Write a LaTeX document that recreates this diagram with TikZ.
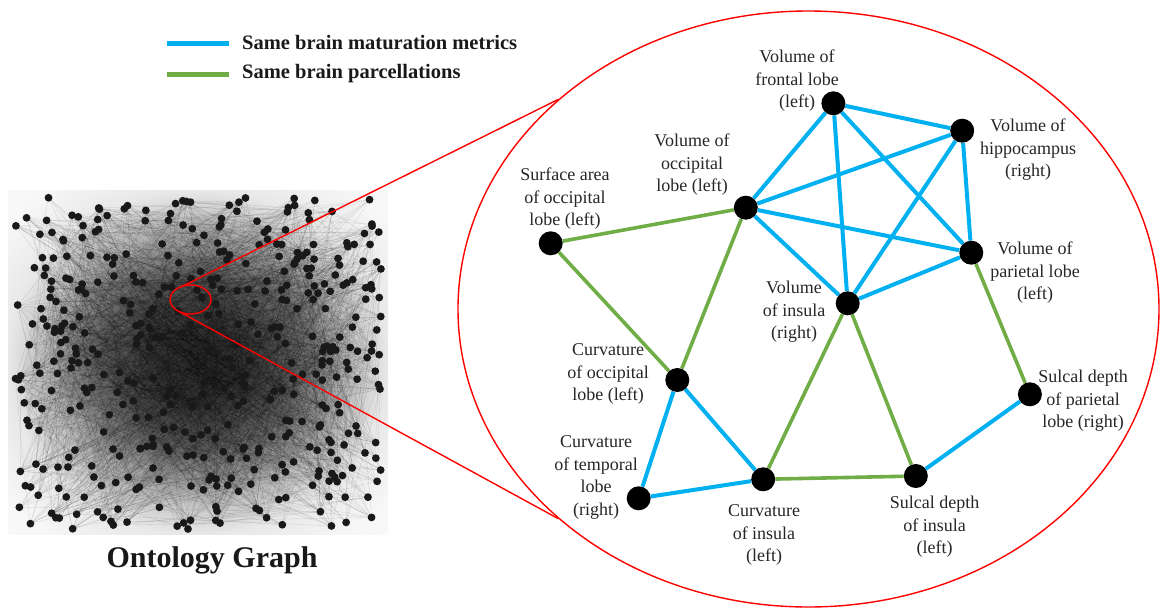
\documentclass[tikz,border=0pt]{standalone}
\usepackage{fontspec}
\setmainfont{Liberation Serif}
\usetikzlibrary{shapes.geometric}
\pgfdeclarelayer{edgelayer}
\pgfdeclarelayer{nodelayer}
\pgfsetlayers{edgelayer,nodelayer,main}
\definecolor{metricblue}{RGB}{0,176,240}
\definecolor{parcgreen}{RGB}{112,173,71}
\pgfdeclareradialshading{webshade}{\pgfpoint{0bp}{0bp}}{color(0bp)=(black!80); color(6bp)=(black!74); color(13bp)=(black!55); color(20bp)=(black!25); color(25bp)=(black!9); color(32bp)=(black!3); color(50bp)=(white)}
\tikzstyle{none}=[inner sep=0pt]
\tikzstyle{region}=[circle,fill=black,minimum size=24pt,inner sep=0pt]
\tikzstyle{caption}=[align=center,inner sep=0pt,text=black!85,font=\fontsize{18}{22.5}\selectfont]
\tikzstyle{legendtext}=[anchor=west,inner sep=0pt,text=black!90,font=\fontsize{20.5}{24}\selectfont\bfseries]
\tikzstyle{samemetric}=[draw=metricblue,line width=4pt]
\tikzstyle{sameparc}=[draw=parcgreen,line width=3.6pt]
\tikzstyle{zoomline}=[draw=red,line width=1.4pt]
\tikzstyle{webedge}=[draw=black,line width=0.35pt,opacity=0.12]
\tikzstyle{webdot}=[fill=black!90]

\begin{document}
\begin{tikzpicture}[x=1pt,y=-1pt]
	\useasboundingbox (0,0) rectangle (1160,608);
	\begin{pgfonlayer}{nodelayer}
		\node [style=region] (0) at (833.4, 103.3) {};
		\node [style=region] (1) at (962.2, 130.7) {};
		\node [style=region] (2) at (745.8, 207.7) {};
		\node [style=region] (3) at (550.7, 243.3) {};
		\node [style=region] (4) at (971.3, 252.7) {};
		\node [style=region] (5) at (847.7, 303.3) {};
		\node [style=region] (6) at (677.3, 380) {};
		\node [style=region] (7) at (1029.9, 394.3) {};
		\node [style=region] (8) at (638.7, 498.3) {};
		\node [style=region] (9) at (763.2, 479.3) {};
		\node [style=region] (10) at (915.8, 476) {};
		\node [style=caption] (11) at (797, 81) {Volume of\\frontal lobe\\(left)};
		\node [style=caption] (12) at (1028, 150) {Volume of\\hippocampus\\(right)};
		\node [style=caption] (13) at (692, 165) {Volume of\\occipital\\lobe (left)};
		\node [style=caption] (14) at (565, 199) {Surface area\\of occipital\\lobe (left)};
		\node [style=caption] (15) at (1035, 273) {Volume of\\parietal lobe\\(left)};
		\node [style=caption] (16) at (794, 312) {Volume\\of insula\\(right)};
		\node [style=caption] (17) at (608, 374) {Curvature\\of occipital\\lobe (left)};
		\node [style=caption] (18) at (1083, 401) {Sulcal depth\\of parietal\\lobe (right)};
		\node [style=caption] (19) at (596, 477.5) {Curvature\\of temporal\\lobe\\(right)};
		\node [style=caption] (20) at (764, 535) {Curvature\\of insula\\(left)};
		\node [style=caption] (21) at (934.5, 527) {Sulcal depth\\of insula\\(left)};
		\coordinate (22) at (167, 43);
		\coordinate (23) at (229, 43);
		\coordinate (24) at (167, 74);
		\coordinate (25) at (229, 74);
		\node [style=legendtext] (26) at (242, 43) {Same brain maturation metrics};
		\node [style=legendtext] (27) at (242, 74) {Same brain parcellations};
		\node [font=\fontsize{30}{34}\selectfont\bfseries,text=black!90] (28) at (212, 560) {Ontology Graph};
		\coordinate (29) at (181, 287);
		\coordinate (30) at (558, 99.5);
		\coordinate (31) at (180, 312);
		\coordinate (32) at (558, 518.5);
	\end{pgfonlayer}
	\begin{pgfonlayer}{edgelayer}
		% ontology graph
		\shade [shading=webshade] (8, 190) rectangle (388, 534);
		\pgfmathsetseed{4172}
		\foreach \i in {1,...,440} {
			\pgfmathsetmacro\px{15+366*rnd}
			\pgfmathsetmacro\py{196+333*rnd}
			\coordinate (d\i) at (\px, \py);
		}
		\foreach \k in {1,...,2600} {
			\pgfmathtruncatemacro\a{random(1,440)}
			\pgfmathtruncatemacro\b{random(1,440)}
			\draw [style=webedge] (d\a) -- (d\b);
		}
		\foreach \i in {1,...,440}
			\fill [style=webdot] (d\i) circle (3.9pt);
		% zoomed part
		\draw [style=samemetric] (0) to (1);
		\draw [style=samemetric] (0) to (2);
		\draw [style=samemetric] (0) to (4);
		\draw [style=samemetric] (0) to (5);
		\draw [style=samemetric] (1) to (2);
		\draw [style=samemetric] (1) to (4);
		\draw [style=samemetric] (1) to (5);
		\draw [style=samemetric] (2) to (4);
		\draw [style=samemetric] (2) to (5);
		\draw [style=samemetric] (4) to (5);
		\draw [style=samemetric] (6) to (8);
		\draw [style=samemetric] (6) to (9);
		\draw [style=samemetric] (8) to (9);
		\draw [style=samemetric] (10) to (7);
		\draw [style=sameparc] (3) to (2);
		\draw [style=sameparc] (3) to (6);
		\draw [style=sameparc] (2) to (6);
		\draw [style=sameparc] (5) to (9);
		\draw [style=sameparc] (5) to (10);
		\draw [style=sameparc] (9) to (10);
		\draw [style=sameparc] (4) to (7);
		\draw [samemetric, line width=5pt] (22) to (23);
		\draw [sameparc, line width=5pt] (24) to (25);
	\end{pgfonlayer}
	\draw [style=zoomline] (190.5, 299.5) ellipse [x radius=20.5, y radius=14.5];
	\draw [style=zoomline] (808.5, 309) ellipse [x radius=350.5, y radius=298];
	\draw [style=zoomline] (29) to (30);
	\draw [style=zoomline] (31) to (32);
\end{tikzpicture}
\end{document}
